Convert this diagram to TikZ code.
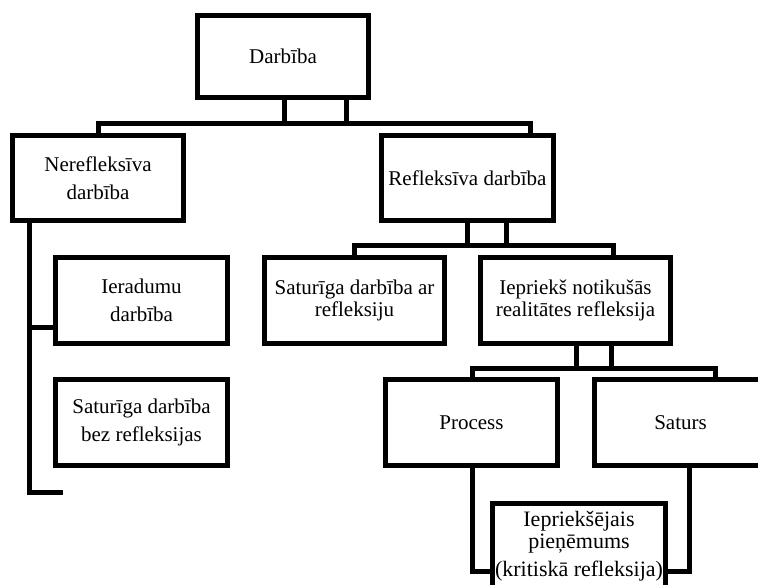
\documentclass[tikz,border=0pt]{standalone}
\usepackage{fontspec}
\setmainfont{Liberation Serif}
\begin{document}
\begin{tikzpicture}[x=1pt,y=-1pt,
  box/.style={draw, line width=5pt, inner sep=0pt, align=center,
    minimum width=172pt, minimum height=86pt,
    font=\fontsize{21}{28}\selectfont},
  tight/.style={font=\fontsize{21}{22}\selectfont},
  conn/.style={line width=5pt, line join=miter, line cap=butt}]
\useasboundingbox (0,0) rectangle (758,585);
\clip (0,0) rectangle (758,585);

% boxes
\node[box, minimum width=171pt, minimum height=82pt] (darb) at (283,56.5) {Darbība};
\node[box, minimum width=171pt, minimum height=85pt] (nerefl) at (98,178) {Nerefleksīva\\darbība};
\node[box, minimum height=85pt] (refl) at (467.5,178) {Refleksīva darbība};
\node[box] (ierad) at (141.5,300.5) {Ieradumu\\darbība};
\node[box] (satbez) at (141.5,422.5) {Saturīga darbība\\bez refleksijas};
\node[box, tight, minimum width=180pt] (satar) at (354.5,300.5) {Saturīga darbība ar\\refleksiju};
\node[box, tight, minimum width=190pt] (iepr) at (575.5,300.5) {Iepriekš notikušās\\realitātes refleksija};
\node[box] (proc) at (471.5,422.5) {Process};
\node[box] (sat) at (680.5,422.5) {Saturs};
\node[box, minimum width=173pt, font=\fontsize{22}{22}\selectfont] (pien) at (579,546.5)
  {Iepriekšējais\\pieņēmums\\[6pt](kritiskā refleksija)};

% junction points
\coordinate (busA) at (98.5,123.5);
\coordinate (busB) at (530.5,123.5);
\coordinate (legL) at (284,123.5);
\coordinate (legR) at (346,123.5);
\coordinate (rbusR) at (613.5,245.5);
\coordinate (rlegL) at (467.5,245.5);
\coordinate (rlegR) at (506.5,245.5);
\coordinate (ibusL) at (472.5,368.5);
\coordinate (ibusR) at (715.8,368.5);
\coordinate (ilegL) at (576.5,368.5);
\coordinate (ilegR) at (611,368.5);
\coordinate (pL) at (472.5,571);
\coordinate (pR) at (689.5,571);
\coordinate (sp) at (29.2,492);
\coordinate (spEnd) at (63.3,492);
\coordinate (br) at (29.2,327.5);

% Darbība -> two branches
\draw[conn] (nerefl.north -| busA) -- (busA) -- (busB) -- (busB |- refl.north);
\draw[conn] (legL |- darb.south) -- (legL);
\draw[conn] (legR |- darb.south) -- (legR);

% Refleksīva darbība -> two branches
\draw[conn] (satar.north) |- (rbusR) -- (rbusR |- iepr.north);
\draw[conn] (rlegL |- refl.south) -- (rlegL);
\draw[conn] (rlegR |- refl.south) -- (rlegR);

% Iepriekš notikušās ... -> Process, Saturs
\draw[conn] (ibusL |- proc.north) -- (ibusL) -- (ibusR) -- (ibusR |- sat.north);
\draw[conn] (ilegL |- iepr.south) -- (ilegL);
\draw[conn] (ilegR |- iepr.south) -- (ilegR);

% Process, Saturs -> Iepriekšējais pieņēmums
\draw[conn] (pL |- proc.south) -- (pL) -- (pL -| pien.west);
\draw[conn] (pR |- sat.south) -- (pR) -- (pR -| pien.east);

% left spine under Nerefleksīva darbība
\draw[conn] (sp |- nerefl.south) -- (sp) -- (spEnd);
\draw[conn] (br) -- (br -| ierad.west);
\end{tikzpicture}
\end{document}
